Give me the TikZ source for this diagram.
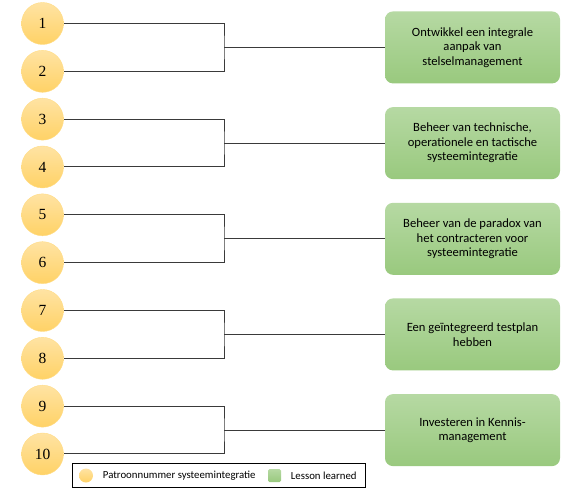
\documentclass[tikz,border=0pt]{standalone}
\usepackage{fontspec}
\setmainfont{Liberation Serif}
\newfontfamily\lessonfont{Carlito}
\definecolor{patroonTop}{HTML}{FFE3A3}
\definecolor{patroonBot}{HTML}{FFD266}
\definecolor{patroonRand}{HTML}{FFDC85}
\definecolor{lessonTop}{HTML}{B6D9A3}
\definecolor{lessonBot}{HTML}{99C97E}
\definecolor{lijn}{HTML}{3A3A3A}
\tikzset{
  patroon/.style={circle, minimum size=42pt, inner sep=0pt, draw=patroonRand,
    top color=patroonTop, bottom color=patroonBot, font=\fontsize{15.5}{18}\selectfont},
  lesson/.style={rounded corners=8pt, minimum width=175pt, minimum height=72pt,
    inner sep=2pt, draw=none, top color=lessonTop, bottom color=lessonBot,
    align=center, font=\lessonfont\fontsize{12.6}{14.6}\selectfont},
  verbind/.style={draw=lijn, line width=1pt},
  legendatekst/.style={anchor=west, inner sep=0pt, font=\lessonfont\fontsize{10.8}{12}\selectfont}
}
\begin{document}
\begin{tikzpicture}[x=1pt, y=-1pt]
   \useasboundingbox (0,0) rectangle (569,488);

   \foreach \i in {1,...,10}
      \node[patroon] (p\i) at (42.5, {23.5+47.83*(\i-1)}) {\i};

   \node[lesson] (l1) at (472.5, 47.4) {Ontwikkel een integrale\\aanpak van\\stelselmanagement};
   \node[lesson] (l2) at (472.5, 143.1) {Beheer van technische,\\operationele en tactische\\systeemintegratie};
   \node[lesson] (l3) at (472.5, 238.8) {Beheer van de paradox van\\het contracteren voor\\systeemintegratie};
   \node[lesson] (l4) at (472.5, 334.4) {Een geïntegreerd testplan\\hebben};
   \node[lesson] (l5) at (472.5, 430.1) {Investeren in Kennis-\\management};

   \foreach \k [evaluate=\k as \a using int(2*\k-1), evaluate=\k as \b using int(2*\k)] in {1,...,5} {
      \coordinate (s\k) at (224, {23.5+47.83*(2*\k-1.5)});
      \draw[verbind] (p\a.east) -| (s\k) |- (p\b.east);
      \draw[verbind] (s\k) -- (s\k -| l\k.west);
   }

   % legenda
   \draw[black, line width=0.6pt] (72.7,463.3) rectangle (365.7,487.3);
   \node[circle, minimum size=14pt, inner sep=0pt, top color=patroonTop, bottom color=patroonBot] (lp) at (86,475.5) {};
   \node[legendatekst] (lpt) at (102.7,475.5) {Patroonnummer systeemintegratie};
   \node[minimum size=13pt, inner sep=0pt, rounded corners=1.5pt, top color=lessonTop, bottom color=lessonBot] (ll) at (274.5,475.5) {};
   \node[legendatekst] (llt) at (290.7,475.5) {Lesson learned};
\end{tikzpicture}
\end{document}
